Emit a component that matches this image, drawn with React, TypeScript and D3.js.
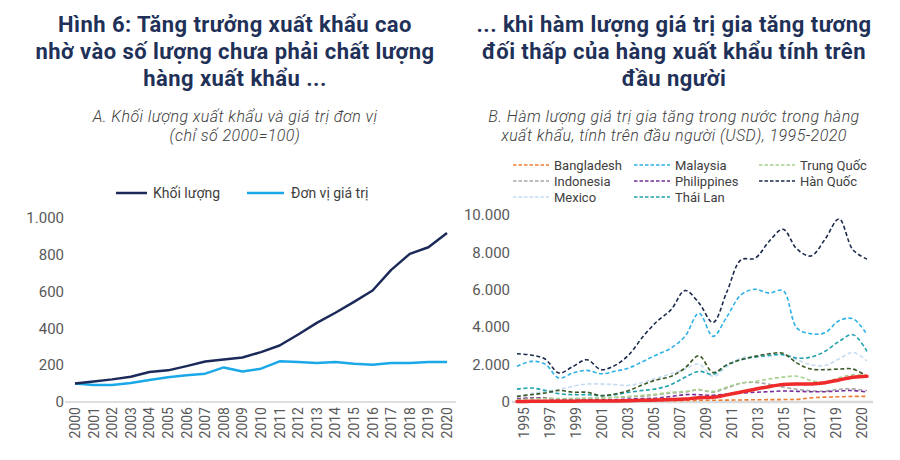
import React from "react";
import * as d3 from "d3";

// ---------- Left chart data ----------
const yearsA = [2000, 2001, 2002, 2003, 2004, 2005, 2006, 2007, 2008, 2009, 2010, 2011, 2012, 2013, 2014, 2015, 2016, 2017, 2018, 2019, 2020];
const volume = [100, 112, 123, 137, 163, 172, 195, 220, 231, 242, 271, 307, 367, 430, 485, 544, 606, 718, 805, 841, 919];
const unitValue = [100, 92, 92, 103, 119, 134, 145, 154, 188, 166, 181, 221, 217, 212, 217, 208, 203, 212, 212, 217, 217];
const ticksA = [0, 200, 400, 600, 800, 1000];

// ---------- Right chart data ----------
const yearsB = [1995, 1996, 1997, 1998, 1999, 2000, 2001, 2002, 2003, 2004, 2005, 2006, 2007, 2008, 2009, 2010, 2011, 2012, 2013, 2014, 2015, 2016, 2017, 2018, 2019, 2020];
const bangladesh = [35, 35, 38, 40, 40, 42, 45, 48, 50, 55, 60, 70, 80, 90, 95, 100, 110, 120, 125, 130, 140, 220, 260, 280, 300, 300];
const indonesia = [160, 200, 230, 150, 180, 200, 220, 240, 270, 310, 390, 480, 530, 660, 520, 750, 1000, 1050, 950, 800, 680, 600, 580, 680, 700, 600];
const philippines = [180, 210, 200, 120, 160, 160, 120, 120, 160, 180, 210, 300, 390, 390, 360, 430, 480, 520, 550, 590, 570, 550, 550, 590, 610, 530];
const trungQuoc = [120, 160, 180, 180, 180, 200, 210, 250, 300, 360, 430, 520, 560, 660, 570, 800, 1010, 1100, 1230, 1330, 1380, 1150, 1050, 1300, 1450, 1420];
const mexico = [300, 450, 570, 660, 840, 960, 960, 930, 890, 1050, 1280, 1510, 1760, 2030, 1370, 1900, 2350, 2440, 2440, 2530, 2260, 2000, 1950, 2300, 2650, 2200];
const thaiLan = [690, 750, 620, 450, 390, 390, 340, 390, 520, 620, 710, 930, 1320, 1640, 1480, 1990, 2260, 2400, 2500, 2530, 2350, 2400, 2710, 3240, 3600, 2710];
const other = [300, 390, 480, 620, 520, 520, 340, 430, 620, 930, 1190, 1370, 1820, 2470, 1580, 1990, 2260, 2440, 2580, 2600, 2080, 1760, 1730, 1760, 1760, 1370];
const malaysia = [1900, 2170, 2030, 1280, 1550, 1690, 1510, 1640, 1820, 2170, 2530, 2880, 3510, 4750, 3510, 4570, 5730, 6030, 5820, 5960, 3950, 3650, 3700, 4350, 4450, 3600];
const hanQuoc = [2580, 2510, 2300, 1550, 1900, 2260, 1730, 1960, 2530, 3500, 4310, 4930, 5960, 5290, 4250, 5910, 7600, 7690, 8580, 9240, 8170, 7810, 8700, 9790, 8130, 7640];
const vietNam = [30, 35, 40, 40, 45, 50, 55, 60, 70, 90, 110, 130, 160, 230, 250, 380, 530, 680, 820, 930, 960, 960, 1030, 1180, 1320, 1380];
const ticksB = [0, 2000, 4000, 6000, 8000, 10000];
const xLabelsB = ["1995", "1997", "1999", "2001", "2003", "2005", "2007", "2009", "2011", "2013", "2015", "2017", "2019", "2020"];

const seriesB = [
  { name: "Bangladesh", values: bangladesh, color: "#ed7d31", legend: true },
  { name: "Indonesia", values: indonesia, color: "#a6a6a6", legend: true },
  { name: "Philippines", values: philippines, color: "#7a2e9a", legend: true },
  { name: "Trung Quốc", values: trungQuoc, color: "#a9d18e", legend: true },
  { name: "Mexico", values: mexico, color: "#c5dbf1", legend: true },
  { name: "Thái Lan", values: thaiLan, color: "#1ea2ad", legend: true },
  { name: "other", values: other, color: "#3b5a28", legend: false },
  { name: "Malaysia", values: malaysia, color: "#2cb2e6", legend: true },
  { name: "Hàn Quốc", values: hanQuoc, color: "#1b2a4c", legend: true },
];
const legendOrder = ["Bangladesh", "Malaysia", "Trung Quốc", "Indonesia", "Philippines", "Hàn Quốc", "Mexico", "Thái Lan"];

const locale = d3.formatLocale({ decimal: ",", thousands: ".", grouping: [3], currency: ["", ""] });
const fmt = locale.format(",");

const TITLE_COLOR = "#1f3158";
const TEXT = "#404040";
const AXIS = "#595959";
const FONT = "Roboto, 'Noto Sans', sans-serif";

export default function App() {
  // Left scales
  const xA = d3.scaleLinear().domain([2000, 2020]).range([75, 447]);
  const yA = d3.scaleLinear().domain([0, 1000]).range([402, 218]);
  const lineA = d3.line<number>().x((_, i) => xA(yearsA[i])).y((d) => yA(d));

  // Right scales
  const xB = d3.scaleLinear().domain([1995, 2020]).range([517, 867]);
  const yB = d3.scaleLinear().domain([0, 10000]).range([402, 215]);
  const xLab = d3.scalePoint<string>().domain(xLabelsB).range([524, 862]);
  const lineB = d3
    .line<number>()
    .x((_, i) => xB(yearsB[i]))
    .y((d) => yB(d))
    .curve(d3.curveCatmullRom.alpha(0.5));

  const titleStyle = { fontFamily: FONT, fontWeight: 700, fontSize: 22, letterSpacing: 0.45, fill: TITLE_COLOR } as const;
  const subStyle = { fontFamily: FONT, fontWeight: 300, fontStyle: "italic", fontSize: 16, letterSpacing: 0.45, fill: TEXT } as const;

  const legItems = legendOrder.map((n) => seriesB.find((s) => s.name === n)!);
  const legCols = [513, 634, 759];
  const legRows = [165, 181, 197];

  return (
    <svg width={900} height={460} style={{ position: "absolute", left: 0, top: 0, background: "#fff" }}>
      {/* Titles */}
      <g textAnchor="middle" style={titleStyle}>
        <text x={235} y={32}>Hình 6: Tăng trưởng xuất khẩu cao</text>
        <text x={235} y={59}>nhờ vào số lượng chưa phải chất lượng</text>
        <text x={235} y={86}>hàng xuất khẩu ...</text>
        <text x={674} y={32}>... khi hàm lượng giá trị gia tăng tương</text>
        <text x={674} y={59}>đối thấp của hàng xuất khẩu tính trên</text>
        <text x={674} y={86}>đầu người</text>
      </g>
      <g textAnchor="middle" style={subStyle}>
        <text x={235} y={122}>A. Khối lượng xuất khẩu và giá trị đơn vị</text>
        <text x={235} y={141}>(chỉ số 2000=100)</text>
        <text x={674} y={122}>B. Hàm lượng giá trị gia tăng trong nước trong hàng</text>
        <text x={674} y={141}>xuất khẩu, tính trên đầu người (USD), 1995-2020</text>
      </g>

      {/* Left legend */}
      <g style={{ fontFamily: FONT, fontSize: 14, fill: TEXT }}>
        <line x1={116} x2={147} y1={193} y2={193} stroke="#1c2a5a" strokeWidth={2.5} />
        <text x={153} y={198}>Khối lượng</text>
        <line x1={247} x2={284} y1={193} y2={193} stroke="#1aa8e8" strokeWidth={2.5} />
        <text x={291} y={198}>Đơn vị giá trị</text>
      </g>

      {/* Left axes */}
      <g style={{ fontFamily: FONT, fontSize: 15, fill: AXIS }}>
        {ticksA.map((t) => (
          <text key={t} x={64} y={yA(t)} dy="0.35em" textAnchor="end">
            {fmt(t)}
          </text>
        ))}
      </g>
      <line x1={65} x2={456} y1={yA(0)} y2={yA(0)} stroke="#bfbfbf" strokeWidth={1} />
      <g style={{ fontFamily: FONT, fontSize: 14, fill: AXIS }}>
        {yearsA.map((yr) => (
          <text key={yr} transform={`translate(${xA(yr)},407) rotate(-90)`} textAnchor="end" dy="0.35em">
            {yr}
          </text>
        ))}
      </g>
      <path d={lineA(unitValue) || ""} fill="none" stroke="#1aa8e8" strokeWidth={2.5} strokeLinejoin="round" />
      <path d={lineA(volume) || ""} fill="none" stroke="#1c2a5a" strokeWidth={2.5} strokeLinejoin="round" />

      {/* Right legend */}
      <g style={{ fontFamily: FONT, fontSize: 13, fill: TEXT }}>
        {legItems.map((s, i) => {
          const cx = legCols[i % 3];
          const cy = legRows[Math.floor(i / 3)];
          return (
            <g key={s.name}>
              <line x1={cx} x2={cx + 36} y1={cy} y2={cy} stroke={s.color} strokeWidth={1.5} strokeDasharray="3.5 2" />
              <text x={cx + 41} y={cy} dy="0.35em">
                {s.name}
              </text>
            </g>
          );
        })}
      </g>

      {/* Right axes */}
      <g style={{ fontFamily: FONT, fontSize: 15, fill: AXIS }}>
        {ticksB.map((t) => (
          <text key={t} x={510} y={yB(t)} dy="0.35em" textAnchor="end">
            {fmt(t)}
          </text>
        ))}
      </g>
      <line x1={512} x2={873} y1={yB(0)} y2={yB(0)} stroke="#d9d9d9" strokeWidth={2.5} />
      <g style={{ fontFamily: FONT, fontSize: 14, fill: AXIS }}>
        {xLabelsB.map((l) => (
          <text key={l} transform={`translate(${xLab(l)},407) rotate(-90)`} textAnchor="end" dy="0.35em">
            {l}
          </text>
        ))}
      </g>
      {seriesB.map((s) => (
        <path
          key={s.name}
          d={lineB(s.values) || ""}
          fill="none"
          stroke={s.color}
          strokeWidth={1.6}
          strokeDasharray="4 2.5"
        />
      ))}
      <path d={lineB(vietNam) || ""} fill="none" stroke="#ee2a2a" strokeWidth={3.5} strokeLinecap="round" />
    </svg>
  );
}
